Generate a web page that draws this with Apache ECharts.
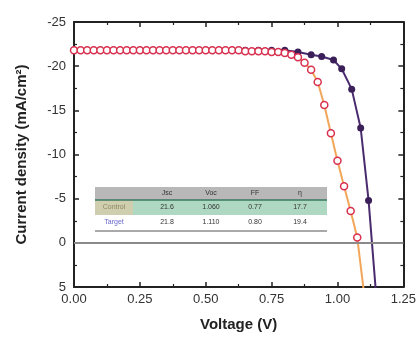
<!DOCTYPE html>
<html>
<head>
<meta charset="utf-8">
<script src="https://cdn.jsdelivr.net/npm/echarts@6/dist/echarts.min.js"></script>
<style>
  html, body { margin: 0; padding: 0; background: #fff; }
  #chart { width: 419px; height: 337px; }
</style>
</head>
<body>
<div id="chart"></div>
<script>
// 数据
var voltageTicks = [0, 0.25, 0.5, 0.75, 1.0, 1.25];
var currentTicks = [-25, -20, -15, -10, -5, 0, 5];

// 红色曲线 (空心圆)
var redV = [0, 0.025, 0.05, 0.075, 0.1, 0.125, 0.15, 0.175, 0.2, 0.225, 0.25, 0.275, 0.3, 0.325, 0.35, 0.375, 0.4, 0.425, 0.45, 0.475, 0.5, 0.525, 0.55, 0.575, 0.6, 0.625, 0.65, 0.675, 0.7, 0.725, 0.75, 0.775, 0.8, 0.825, 0.85, 0.875, 0.9, 0.925, 0.95, 0.975, 1.0, 1.025, 1.05, 1.075, 1.1];
var redJ = [-21.8, -21.8, -21.8, -21.8, -21.8, -21.8, -21.8, -21.8, -21.8, -21.8, -21.8, -21.8, -21.8, -21.8, -21.8, -21.8, -21.8, -21.8, -21.8, -21.8, -21.8, -21.8, -21.8, -21.8, -21.8, -21.8, -21.7, -21.7, -21.7, -21.7, -21.6, -21.6, -21.5, -21.3, -21.0, -20.4, -19.6, -18.2, -15.6, -12.4, -9.3, -6.4, -3.6, -0.6, 5.5];

// 紫色曲线 (实心圆)
var purpleV = [0, 0.05, 0.1, 0.15, 0.2, 0.25, 0.3, 0.35, 0.4, 0.45, 0.5, 0.55, 0.6, 0.65, 0.7, 0.75, 0.8, 0.85, 0.9, 0.94, 0.985, 1.016, 1.054, 1.088, 1.118, 1.147];
var purpleJ = [-21.8, -21.8, -21.8, -21.8, -21.8, -21.8, -21.8, -21.8, -21.8, -21.8, -21.8, -21.8, -21.8, -21.8, -21.8, -21.8, -21.8, -21.6, -21.3, -21.1, -20.7, -19.7, -17.4, -13.0, -4.8, 6.0];

// 表格
var tableHeader = ['', 'Jsc', 'Voc', 'FF', 'η'];
var tableRows = [
    ['Control', '21.6', '1.060', '0.77', '17.7'],
    ['Target', '21.8', '1.110', '0.80', '19.4']
];

function zip(xs, ys) {
    return xs.map(function (x, i) { return [x, ys[i]]; });
}

// 表格图形
function buildTable() {
    var left = 95, width = 232;
    var colX = [114, 167, 211, 255, 300];
    var rowTop = [187, 200, 215];
    var rowH = [13, 15, 15];
    var els = [];
    els.push({ type: 'rect', shape: { x: left, y: rowTop[0], width: width, height: rowH[0] }, style: { fill: '#b8b8b8' } });
    els.push({ type: 'rect', shape: { x: left, y: rowTop[1], width: width, height: rowH[1] }, style: { fill: '#aed8c2' } });
    els.push({ type: 'rect', shape: { x: left, y: rowTop[1], width: 38, height: rowH[1] }, style: { fill: '#cfcfb0' } });
    els.push({ type: 'line', shape: { x1: left, y1: rowTop[1], x2: left + width, y2: rowTop[1] }, style: { stroke: '#3a7a5e', lineWidth: 1.5 } });
    els.push({ type: 'line', shape: { x1: left, y1: 231, x2: left + width, y2: 231 }, style: { stroke: '#555', lineWidth: 1.2 } });

    var rows = [tableHeader].concat(tableRows);
    rows.forEach(function (row, r) {
        row.forEach(function (cell, c) {
            if (!cell) return;
            var color = '#333';
            if (c === 0) color = r === 1 ? '#8a8a60' : '#6a6ad0';
            els.push({
                type: 'text',
                z: 10,
                style: {
                    x: colX[c], y: rowTop[r] + rowH[r] / 2,
                    text: cell,
                    fontSize: 7,
                    fontFamily: 'Liberation Sans',
                    fill: color,
                    align: 'center',
                    verticalAlign: 'middle'
                }
            });
        });
    });
    return els;
}

var chart = echarts.init(document.getElementById('chart'), null, { renderer: 'canvas' });

var axisLine = { onZero: false, lineStyle: { color: '#222', width: 2 } };
var axisTick = { inside: true, length: 5, lineStyle: { color: '#222', width: 1.5 } };
var minorTick = { show: true, splitNumber: 2, length: 3, lineStyle: { color: '#222', width: 1.2 } };
var labelStyle = { color: '#333', fontSize: 13, fontFamily: 'Liberation Sans' };

chart.setOption({
    animation: false,
    grid: { left: 74, right: 14, top: 22, bottom: 48 },
    xAxis: [
        {
            type: 'value',
            min: voltageTicks[0],
            max: voltageTicks[voltageTicks.length - 1],
            interval: 0.25,
            position: 'bottom',
            axisLine: axisLine,
            axisTick: axisTick,
            minorTick: minorTick,
            splitLine: { show: false },
            axisLabel: Object.assign({ formatter: function (v) { return v.toFixed(2); }, margin: 6 }, labelStyle),
            name: 'Voltage (V)',
            nameLocation: 'middle',
            nameGap: 30,
            nameTextStyle: { color: '#222', fontSize: 15, fontWeight: 'bold', fontFamily: 'Liberation Sans' }
        },
        {
            type: 'value',
            min: voltageTicks[0],
            max: voltageTicks[voltageTicks.length - 1],
            interval: 0.25,
            position: 'top',
            axisLine: axisLine,
            axisTick: axisTick,
            minorTick: minorTick,
            splitLine: { show: false },
            axisLabel: { show: false }
        }
    ],
    yAxis: [
        {
            type: 'value',
            inverse: true,
            min: currentTicks[0],
            max: currentTicks[currentTicks.length - 1],
            interval: 5,
            position: 'left',
            axisLine: axisLine,
            axisTick: axisTick,
            minorTick: minorTick,
            splitLine: { show: false },
            axisLabel: Object.assign({ margin: 8 }, labelStyle),
            name: 'Current density (mA/cm²)',
            nameLocation: 'middle',
            nameGap: 45,
            nameTextStyle: { color: '#222', fontSize: 15, fontWeight: 'bold', fontFamily: 'Liberation Sans' }
        },
        {
            type: 'value',
            inverse: true,
            min: currentTicks[0],
            max: currentTicks[currentTicks.length - 1],
            interval: 5,
            position: 'right',
            axisLine: axisLine,
            axisTick: axisTick,
            minorTick: minorTick,
            splitLine: { show: false },
            axisLabel: { show: false }
        }
    ],
    series: [
        {
            name: 'purple',
            type: 'line',
            data: zip(purpleV, purpleJ),
            symbol: 'circle',
            symbolSize: 7,
            lineStyle: { color: '#4a2c6e', width: 2 },
            itemStyle: { color: '#3a1f58' },
            clip: true,
            z: 3,
            markLine: {
                silent: true,
                symbol: 'none',
                label: { show: false },
                lineStyle: { color: '#8a8a8a', width: 2, type: 'solid' },
                data: [{ yAxis: 0 }]
            }
        },
        {
            name: 'red',
            type: 'line',
            data: zip(redV, redJ),
            symbol: 'circle',
            symbolSize: 7,
            lineStyle: { color: '#f2a65a', width: 2 },
            itemStyle: { color: '#fff', borderColor: '#d8304e', borderWidth: 1.5 },
            clip: true,
            z: 4
        }
    ],
    graphic: buildTable()
});
</script>
</body>
</html>
